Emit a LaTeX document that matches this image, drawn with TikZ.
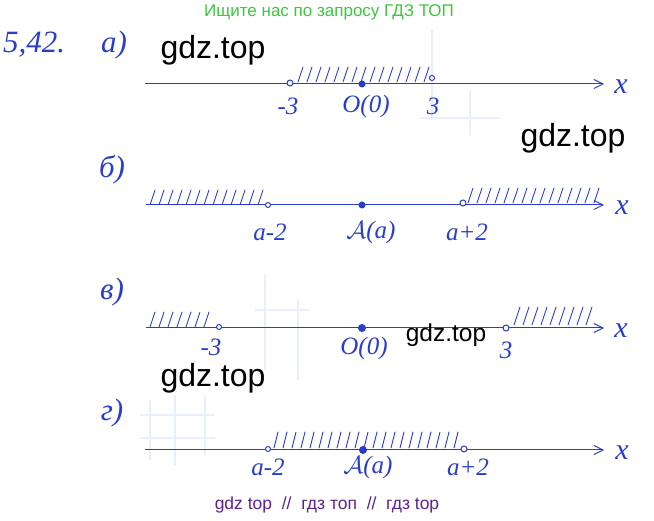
\documentclass[tikz,border=0pt]{standalone}
\usepackage{fontspec}
\setmainfont{Liberation Sans}
\newfontfamily\hwfont{Liberation Serif}
\usetikzlibrary{arrows.meta}
\definecolor{ink}{RGB}{40,62,200}
\definecolor{wmgreen}{RGB}{60,200,60}
\definecolor{wmpurple}{RGB}{95,35,140}
\definecolor{gridblue}{RGB}{232,240,252}
\tikzset{
  axis/.style={draw=ink, line width=1pt, -{Straight Barb[length=9pt,width=9pt,line width=1pt]}},
  hatchline/.style={draw=ink, line width=0.9pt, line cap=round},
  opendot/.style={circle, draw=ink, line width=1pt, fill=white, inner sep=0pt, minimum size=6pt},
  fulldot/.style={circle, fill=ink, inner sep=0pt, minimum size=8pt},
  hw/.style={text=ink, font=\hwfont\itshape\fontsize{25}{25}\selectfont, inner sep=1pt},
  hwx/.style={text=ink, font=\hwfont\itshape\fontsize{30}{30}\selectfont, inner sep=0pt},
  hwbig/.style={text=ink, font=\hwfont\itshape\fontsize{31}{31}\selectfont, inner sep=1pt},
  wm/.style={text=black, font=\fontsize{32}{32}\selectfont, inner sep=0pt},
  gridseg/.style={draw=gridblue, line width=1.2pt}
}
\begin{document}
\begin{tikzpicture}[x=1pt,y=-1pt]
\useasboundingbox (0,0) rectangle (654,521);
\fill[white] (0,0) rectangle (654,521);
% faint paper grid fragments
\draw[gridseg] (432,30) -- (432,120);
\draw[gridseg] (470,90) -- (470,135);
\draw[gridseg] (420,118) -- (500,118);
\draw[gridseg] (265,275) -- (265,370);
\draw[gridseg] (298,300) -- (298,380);
\draw[gridseg] (255,310) -- (310,310);
\draw[gridseg] (150,400) -- (150,460);
\draw[gridseg] (175,395) -- (175,465);
\draw[gridseg] (205,395) -- (205,455);
\draw[gridseg] (140,415) -- (215,415);
\draw[gridseg] (140,438) -- (215,438);
% header
\node[text=wmgreen, font=\fontsize{17}{17}\selectfont] (head) at (329,12) {Ищите нас по запросу ГДЗ ТОП};
\node[hwbig, anchor=west] (num) at (2,45) {5,42.};
% ---------------- a)
\node[hwbig] (la) at (114,45) {а)};
\coordinate (a0) at (145,84);
\coordinate (a1) at (604,84);
\foreach \x in {298,307,...,430} \draw[hatchline] (\x,82) -- ++(5,-15);
\draw[axis] (a0) -- (a1);
\node[hwx] (ax) at (621,87) {x};
\node[opendot] (am3) at (290,83) {};
\node[fulldot, minimum size=7pt] (a00) at (362,84) {};
\node[opendot, minimum size=5pt] (ap3) at (432,78) {};
\node[hw] (tm3) at (288,106) {-3};
\node[hw] (t00) at (366,106) {O(0)};
\node[hw] (tp3) at (433,106) {3};
\node[wm] (w1) at (213,50) {gdz.top};
% ---------------- b)
\node[hwbig] (lb) at (112,170) {б)};
\coordinate (b0) at (146,205);
\coordinate (b1) at (604,205);
\foreach \x in {150,159,...,258} \draw[hatchline] (\x,205) -- ++(5,-15);
\foreach \x in {468,477,...,597} \draw[hatchline] (\x,203) -- ++(5,-15);
\draw[axis] (b0) -- (b1);
\node[hwx] (bx) at (622,208) {x};
\node[opendot, minimum size=5pt] (bm2) at (268,205) {};
\node[fulldot, minimum size=7pt] (ba) at (362,205) {};
\node[opendot, minimum size=6pt] (bp2) at (463,203) {};
\node[hw] (tbm2) at (270,232) {a-2};
\node[hw] (tba) at (371,232) {$\mathcal{A}$(a)};
\node[hw] (tbp2) at (467,232) {a+2};
\node[wm] (w2) at (573,138) {gdz.top};
% ---------------- v)
\node[hwbig] (lv) at (112,292) {в)};
\coordinate (v0) at (146,328);
\coordinate (v1) at (604,328);
\foreach \x in {150,159,...,210} \draw[hatchline] (\x,327) -- ++(5,-15);
\foreach \x in {514,523,...,586} \draw[hatchline] (\x,325) -- ++(6,-18);
\draw[axis] (v0) -- (v1);
\node[hwx] (vx) at (621,331) {x};
\node[opendot, minimum size=5pt] (vm3) at (219,327) {};
\node[fulldot, minimum size=8pt] (v00) at (362,328) {};
\node[opendot, minimum size=6pt] (vp3) at (506,328) {};
\node[hw] (tvm3) at (211,347) {-3};
\node[hw] (tv00) at (364,348) {O(0)};
\node[hw] (tvp3) at (506,350) {3};
\node[wm, font=\fontsize{24.5}{25}\selectfont] (w3) at (446,335) {gdz.top};
\node[wm] (w4) at (213,378) {gdz.top};
% ---------------- g)
\node[hwbig] (lg) at (112,413) {г)};
\coordinate (g0) at (145,450);
\coordinate (g1) at (604,450);
\foreach \x in {274,283,...,458} \draw[hatchline] (\x,448) -- ++(4,-16);
\draw[axis] (g0) -- (g1);
\node[hwx] (gx) at (622,453) {x};
\node[opendot, minimum size=5pt] (gm2) at (268,449) {};
\node[fulldot, minimum size=8pt] (ga) at (363,450) {};
\node[opendot, minimum size=6pt] (gp2) at (464,449) {};
\node[hw] (tgm2) at (268,467) {a-2};
\node[hw] (tga) at (368,467) {$\mathcal{A}$(a)};
\node[hw] (tgp2) at (468,467) {a+2};
% footer
\node[text=wmpurple, font=\fontsize{17.5}{18}\selectfont] (foot) at (327,505) {gdz top \ // \ гдз топ \ // \ гдз top};
\end{tikzpicture}
\end{document}
